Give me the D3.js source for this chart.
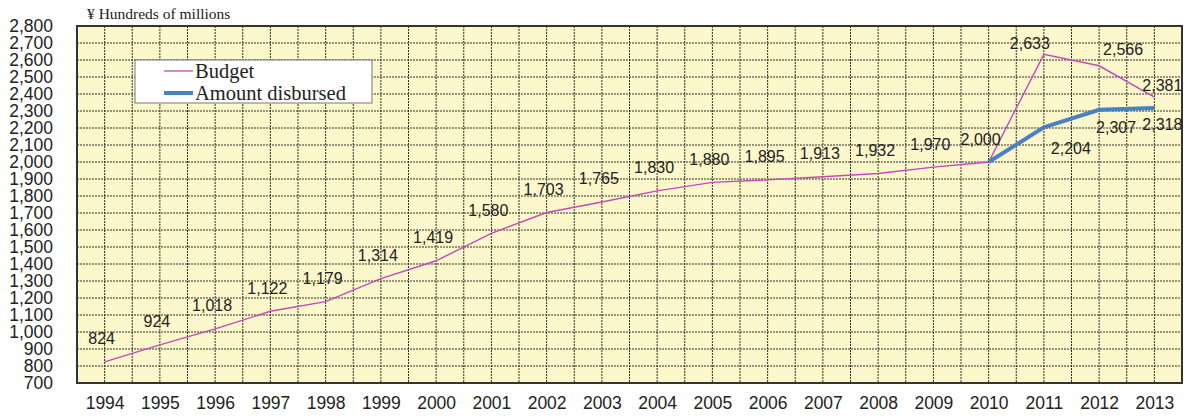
<!DOCTYPE html>
<html>
<head>
<meta charset="utf-8">
<script src="https://cdn.jsdelivr.net/npm/d3@7"></script>
<style>
  body { margin: 0; background: #fff; }
  svg text { fill: #222; }
</style>
</head>
<body>
<div id="chart"></div>
<script>
// Chart data
const years = [1994, 1995, 1996, 1997, 1998, 1999, 2000, 2001, 2002, 2003,
               2004, 2005, 2006, 2007, 2008, 2009, 2010, 2011, 2012, 2013];
const budget = [824, 924, 1018, 1122, 1179, 1314, 1419, 1580, 1703, 1765,
                1830, 1880, 1895, 1913, 1932, 1970, 2000, 2633, 2566, 2381];
const disbursedYears = [2010, 2011, 2012, 2013];
const disbursed = [2000, 2204, 2307, 2318];
const yTicks = d3.range(700, 2801, 100);
const seriesNames = ["Budget", "Amount disbursed"];
const unitLabel = "\u00a5 Hundreds of millions";

let width = 1187, height = 418;
let margin = {top: 26, right: 5, bottom: 35, left: 77};

let svg = d3.select("#chart")
    .append("svg")
    .attr("width", width)
    .attr("height", height);

// x scale spans half a year on each side
let x = d3.scaleLinear()
    .domain([years[0] - 0.5, years[years.length - 1] + 0.5])
    .range([margin.left, width - margin.right]);

let y = d3.scaleLinear()
    .domain([700, 2800])
    .range([height - margin.bottom, margin.top]);

// Plot background
svg.append("rect")
    .attr("x", x.range()[0])
    .attr("y", y(2800))
    .attr("width", x.range()[1] - x.range()[0])
    .attr("height", y(700) - y(2800))
    .attr("fill", "#fdf8cb");

// Grid lines (every 100 vertically, every half year horizontally)
let grid = svg.append("g");
grid.selectAll("line.h")
    .data(yTicks.slice(1, -1))
    .enter().append("line")
    .attr("x1", x.range()[0]).attr("x2", x.range()[1])
    .attr("y1", d => y(d)).attr("y2", d => y(d))
    .attr("stroke", "#2e2e26").attr("stroke-width", 1)
    .attr("stroke-dasharray", "2,1");
let halfYears = d3.range(years[0], years[years.length - 1] + 0.01, 0.5);
grid.selectAll("line.v")
    .data(halfYears)
    .enter().append("line")
    .attr("y1", y(2800)).attr("y2", y(700))
    .attr("x1", d => x(d)).attr("x2", d => x(d))
    .attr("stroke", "#2e2e26").attr("stroke-width", 1)
    .attr("stroke-dasharray", "2,1");

// Frame
svg.append("rect")
    .attr("x", x.range()[0])
    .attr("y", y(2800))
    .attr("width", x.range()[1] - x.range()[0])
    .attr("height", y(700) - y(2800))
    .attr("fill", "none")
    .attr("stroke", "#333")
    .attr("stroke-width", 2);

// Y axis labels
let yAxis = svg.append("g")
    .attr("transform", `translate(${margin.left - 24},0)`)
    .call(d3.axisLeft(y).tickValues(yTicks).tickSize(0).tickPadding(0)
        .tickFormat(d3.format(",")));
yAxis.select(".domain").remove();
yAxis.selectAll("text")
    .style("font-family", "'Liberation Sans', Arial, sans-serif")
    .style("font-size", "17.5px")
    .attr("fill", "#222");

// X axis labels
let xAxis = svg.append("g")
    .attr("transform", `translate(0,${height - margin.bottom + 14})`)
    .call(d3.axisBottom(x).tickValues(years).tickSize(0).tickPadding(0)
        .tickFormat(d3.format("d")));
xAxis.select(".domain").remove();
xAxis.selectAll("text")
    .style("font-family", "'Liberation Sans', Arial, sans-serif")
    .style("font-size", "17.5px")
    .attr("fill", "#222");

// Unit label
svg.append("text")
    .attr("x", 87)
    .attr("y", 19)
    .style("font-family", "'Liberation Serif', 'Times New Roman', serif")
    .style("font-size", "15.5px")
    .text(unitLabel);

// Lines
let line = d3.line()
    .x(d => x(d[0]))
    .y(d => y(d[1]));

svg.append("path")
    .datum(years.map((yr, i) => [yr, budget[i]]))
    .attr("d", line)
    .attr("fill", "none")
    .attr("stroke", "#c548b8")
    .attr("stroke-width", 1.4);

svg.append("path")
    .datum(disbursedYears.map((yr, i) => [yr, disbursed[i]]))
    .attr("d", line)
    .attr("fill", "none")
    .attr("stroke", "#4a80c4")
    .attr("stroke-width", 4);

// Value labels: mostly above the point, a few moved to avoid overlap
let budgetOffsets = {2010: [-8, -23], 2011: [-14, -11], 2012: [24, -16], 2013: [8, -12]};
let disbursedOffsets = {2011: [27, 21], 2012: [17, 18], 2013: [8, 17]};

let labelStyle = function(sel) {
    sel.style("font-family", "'Liberation Sans', Arial, sans-serif")
        .style("font-size", "16px")
        .attr("text-anchor", "middle")
        .attr("dominant-baseline", "central")
        .attr("fill", "#222");
};

svg.append("g").selectAll("text")
    .data(years.map((yr, i) => ({year: yr, value: budget[i]})))
    .enter().append("text")
    .attr("x", d => x(d.year) + (budgetOffsets[d.year] || [-3, -23])[0])
    .attr("y", d => y(d.value) + (budgetOffsets[d.year] || [-3, -23])[1])
    .call(labelStyle)
    .text(d => d3.format(",")(d.value));

svg.append("g").selectAll("text")
    .data(disbursedYears.map((yr, i) => ({year: yr, value: disbursed[i]}))
        .filter(d => disbursedOffsets[d.year]))
    .enter().append("text")
    .attr("x", d => x(d.year) + disbursedOffsets[d.year][0])
    .attr("y", d => y(d.value) + disbursedOffsets[d.year][1])
    .call(labelStyle)
    .text(d => d3.format(",")(d.value));

// Legend
let legend = svg.append("g").attr("transform", "translate(135,60)");
legend.append("rect")
    .attr("width", 237).attr("height", 43)
    .attr("fill", "#fff")
    .attr("stroke", "#777").attr("stroke-width", 1);
let legendColors = ["#d48cc8", "#4a80c4"];
let legendWidths = [2, 4];
seriesNames.forEach(function(name, i) {
    let ly = 11 + i * 22;
    legend.append("line")
        .attr("x1", 29).attr("x2", 58)
        .attr("y1", ly).attr("y2", ly)
        .attr("stroke", legendColors[i])
        .attr("stroke-width", legendWidths[i]);
    legend.append("text")
        .attr("x", 60).attr("y", ly)
        .attr("dominant-baseline", "central")
        .style("font-family", "'Liberation Serif', 'Times New Roman', serif")
        .style("font-size", "20.5px")
        .text(name);
});
</script>
</body>
</html>
